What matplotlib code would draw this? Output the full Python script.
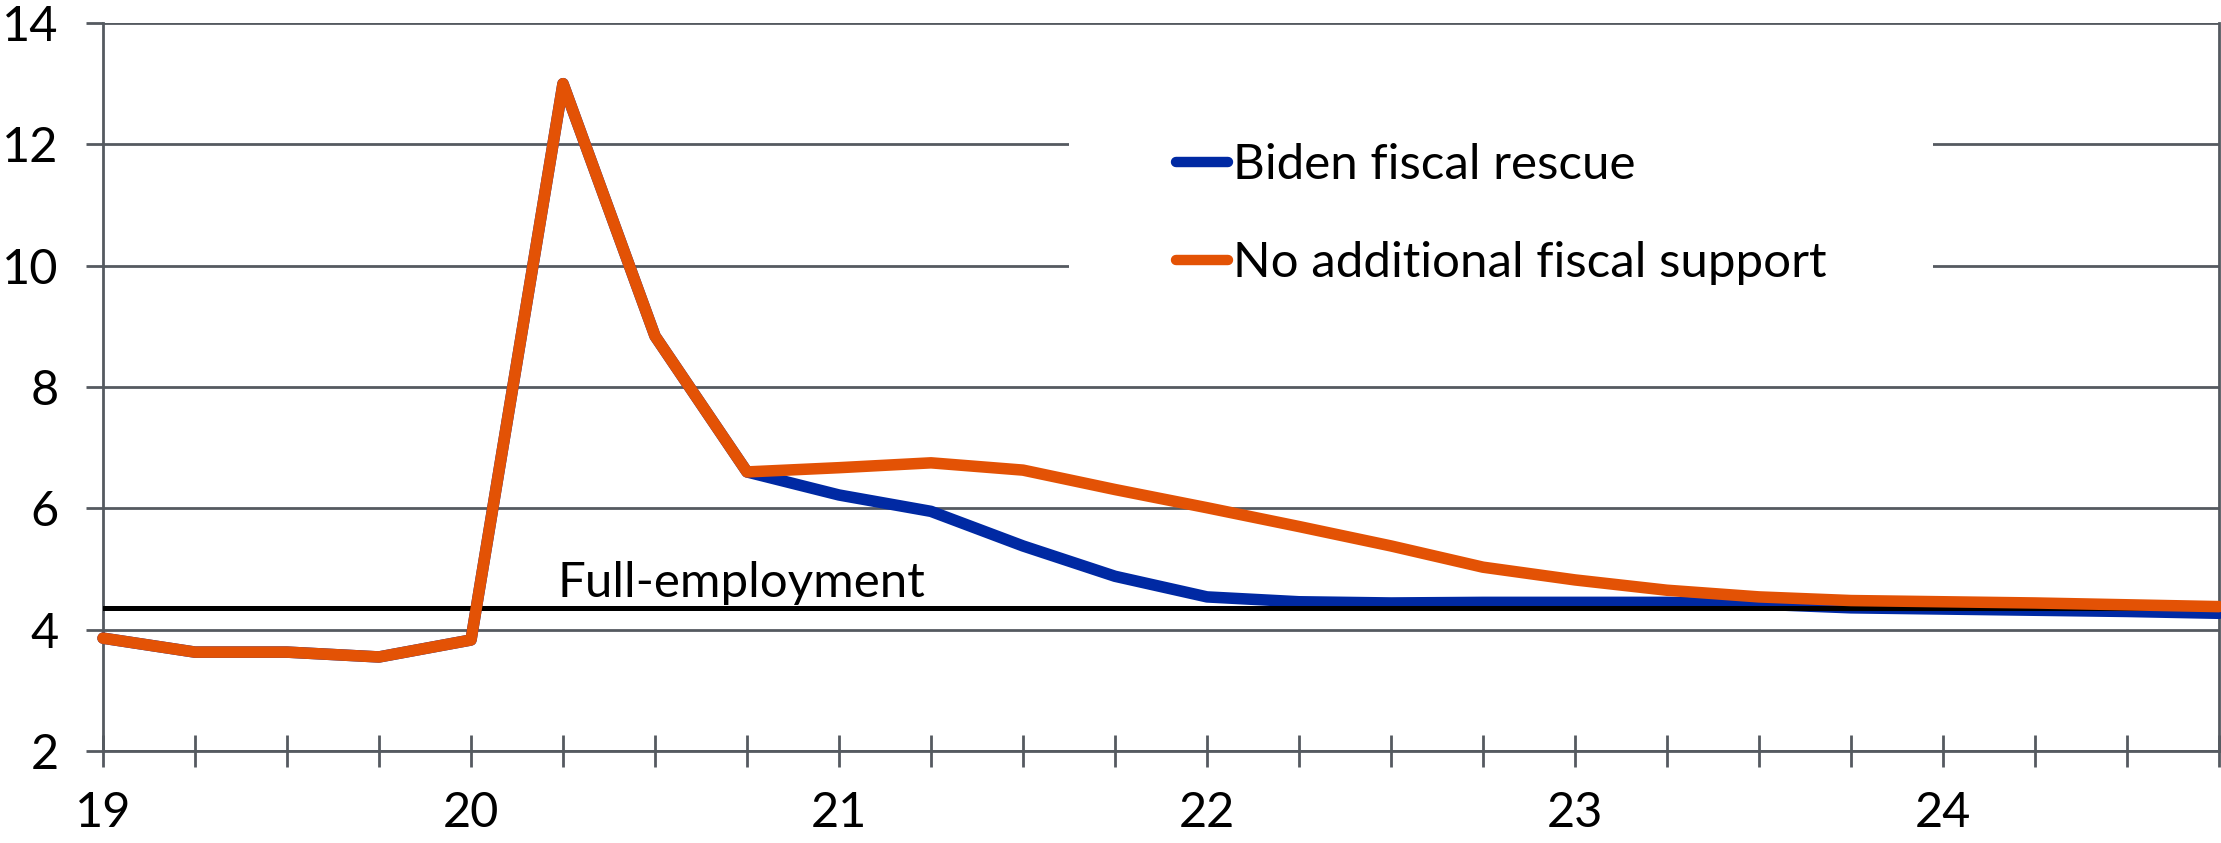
import matplotlib
matplotlib.use("Agg")
import matplotlib.pyplot as plt
from matplotlib.patches import Rectangle
from matplotlib.ticker import MultipleLocator, FixedLocator

plt.rcParams['font.family'] = ['Lato', 'DejaVu Sans']

# Quarterly x positions (year 2019 = 19, ..., 2024Q4 = 24.75)
quarters = [19.0, 19.25, 19.5, 19.75, 20.0, 20.25, 20.5, 20.75,
            21.0, 21.25, 21.5, 21.75, 22.0, 22.25, 22.5, 22.75,
            23.0, 23.25, 23.5, 23.75, 24.0, 24.25, 24.5, 24.75]

biden = [3.86, 3.63, 3.63, 3.55, 3.83, 13.0, 8.84, 6.60,
         6.22, 5.95, 5.38, 4.88, 4.54, 4.46, 4.44, 4.45,
         4.45, 4.45, 4.42, 4.36, 4.34, 4.32, 4.30, 4.27]

no_support = [3.86, 3.63, 3.63, 3.55, 3.83, 13.0, 8.84, 6.60,
              6.67, 6.75, 6.63, 6.31, 6.01, 5.70, 5.38, 5.03,
              4.82, 4.65, 4.54, 4.48, 4.46, 4.44, 4.41, 4.38]

full_employment = 4.35
fe_range = [18.99, 24.7]

year_ticks = [19, 20, 21, 22, 23, 24]
year_labels = ["19", "20", "21", "22", "23", "24"]
y_ticks = [2, 4, 6, 8, 10, 12, 14]

series_labels = ["Biden fiscal rescue", "No additional fiscal support"]
fe_label = "Full-employment"

BLUE = "#0029A3"
ORANGE = "#E35205"
GRID = "#555A60"

W, H = 2221, 843
fig = plt.figure(figsize=(W / 100, H / 100), dpi=100)
ax = fig.add_axes([103 / W, 1 - 751 / H, (2219 - 103) / W, (751 - 23) / H])

ax.set_xlim(19, 24.75)
ax.set_ylim(2, 14)

# grid
ax.set_yticks(y_ticks)
ax.yaxis.grid(True, color=GRID, lw=2, zorder=0.5)
ax.set_axisbelow(True)

ax.xaxis.set_major_locator(FixedLocator(year_ticks))
ax.set_xticklabels(year_labels)
ax.xaxis.set_minor_locator(MultipleLocator(0.25))

for s in ["left", "right", "bottom"]:
    ax.spines[s].set_color(GRID)
    ax.spines[s].set_linewidth(2)
ax.spines["top"].set_visible(False)

ax.tick_params(axis="x", which="both", direction="inout", length=23, width=2,
               color=GRID, labelsize=35, pad=17)
ax.tick_params(axis="y", which="both", direction="out", length=12, width=2,
               color=GRID, labelsize=35, pad=20)

l1, = ax.plot(quarters, biden, color=BLUE, lw=8.3, solid_joinstyle="round",
              solid_capstyle="round", zorder=3, label=series_labels[0])
ax.plot(fe_range, [full_employment, full_employment], color="black", lw=3.6,
        zorder=4, solid_capstyle="butt")
l2, = ax.plot(quarters, no_support, color=ORANGE, lw=8.3, solid_joinstyle="round",
              solid_capstyle="round", zorder=5, label=series_labels[1])
for ln in (l1, l2):
    ln.set_clip_on(False)

ax.text(19.0 + (557 - 103) / 368.0, full_employment + 0.19, fe_label,
        fontsize=35.5, ha="left", va="baseline", color="black", zorder=6)

# white legend background covering grid lines
ax.add_patch(Rectangle((1069 / W, 1 - 340 / H), (1933 - 1069) / W, (340 - 80) / H,
                       transform=fig.transFigure, facecolor="white",
                       edgecolor="none", zorder=1, clip_on=False))

leg = ax.legend(handles=[l1, l2], loc="center left",
                bbox_to_anchor=(1176 / W, 1 - 214 / H), bbox_transform=fig.transFigure,
                frameon=False, fontsize=35.5, handlelength=1.05, handletextpad=0.1,
                labelspacing=1.1, borderpad=0, borderaxespad=0)
for h in leg.get_lines():
    h.set_linewidth(7.5)
    h.set_solid_capstyle("round")
leg.set_zorder(10)

fig.savefig("out.png", dpi=100, facecolor="white")
